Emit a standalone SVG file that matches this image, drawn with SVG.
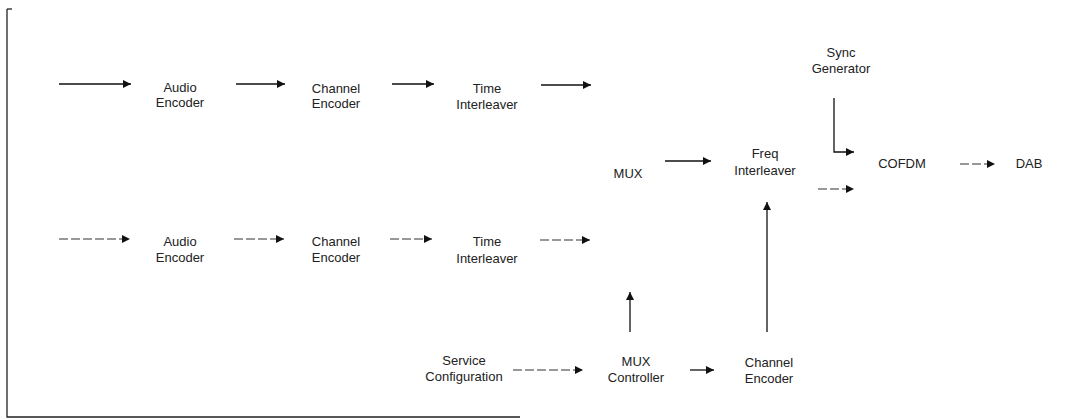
<svg xmlns="http://www.w3.org/2000/svg" width="1089" height="419" viewBox="0 0 1089 419">
<style>
text{font-family:"Liberation Sans",Arial,sans-serif;font-size:13px;fill:#222;text-anchor:middle}
.c{fill:none;stroke:#111;stroke-width:1.3}
.f{fill:none;stroke:#333;stroke-width:1.2;stroke-dasharray:9 3}
.frame{fill:none;stroke:#222;stroke-width:1.3}
</style>
<defs>
<marker id="ah" markerUnits="userSpaceOnUse" markerWidth="10" markerHeight="10" refX="8" refY="4" orient="auto">
<path d="M0,0 L8,4 L0,8 Z" fill="#111"/>
</marker>
</defs>
<rect width="1089" height="419" fill="#fff"/>
<g id="frame">
<path class="frame" d="M7,9 V417 H520"/>
<path d="M7,9 H12" class="frame"/>
</g>
<g id="connectors">
<line class="c" x1="59" y1="84" x2="131" y2="84" marker-end="url(#ah)"/>
<line class="c" x1="236" y1="84" x2="285" y2="84" marker-end="url(#ah)"/>
<line class="c" x1="392" y1="84" x2="434" y2="84" marker-end="url(#ah)"/>
<line class="c" x1="541" y1="85" x2="591" y2="85" marker-end="url(#ah)"/>
<line class="f" x1="59" y1="239" x2="130" y2="239" marker-end="url(#ah)"/>
<line class="f" x1="234" y1="239" x2="284" y2="239" marker-end="url(#ah)"/>
<line class="f" x1="390" y1="239" x2="432" y2="239" marker-end="url(#ah)"/>
<line class="f" x1="540" y1="240" x2="590" y2="240" marker-end="url(#ah)"/>
<line class="c" x1="665" y1="161" x2="711" y2="161" marker-end="url(#ah)"/>
<line class="c" x1="767" y1="332" x2="767" y2="202" marker-end="url(#ah)"/>
<line class="c" x1="630" y1="332" x2="630" y2="292" marker-end="url(#ah)"/>
<line class="f" x1="513" y1="370" x2="583" y2="370" marker-end="url(#ah)"/>
<line class="c" x1="690" y1="370" x2="714" y2="370" marker-end="url(#ah)"/>
<path class="c" d="M834,98 V152 H854" marker-end="url(#ah)"/>
<line class="f" x1="818" y1="189" x2="854" y2="189" marker-end="url(#ah)"/>
<line class="f" x1="960" y1="164" x2="995" y2="164" marker-end="url(#ah)"/>
</g>
<g id="audio1"><text x="180" y="92">Audio</text><text x="180" y="107">Encoder</text></g>
<g id="chenc1"><text x="336" y="93">Channel</text><text x="336" y="108">Encoder</text></g>
<g id="time1"><text x="487" y="93">Time</text><text x="487" y="109">Interleaver</text></g>
<g id="audio2"><text x="180" y="246">Audio</text><text x="180" y="262">Encoder</text></g>
<g id="chenc2"><text x="336" y="246">Channel</text><text x="336" y="262">Encoder</text></g>
<g id="time2"><text x="487" y="246">Time</text><text x="487" y="263">Interleaver</text></g>
<g id="mux"><text x="628" y="178">MUX</text></g>
<g id="freq"><text x="765" y="158">Freq</text><text x="765" y="175">Interleaver</text></g>
<g id="sync"><text x="841" y="57">Sync</text><text x="841" y="73">Generator</text></g>
<g id="cofdm"><text x="902" y="168">COFDM</text></g>
<g id="dab"><text x="1029" y="168">DAB</text></g>
<g id="service"><text x="464" y="365">Service</text><text x="464" y="381">Configuration</text></g>
<g id="muxctrl"><text x="636" y="366">MUX</text><text x="636" y="382">Controller</text></g>
<g id="chenc3"><text x="769" y="367">Channel</text><text x="769" y="383">Encoder</text></g>
</svg>
